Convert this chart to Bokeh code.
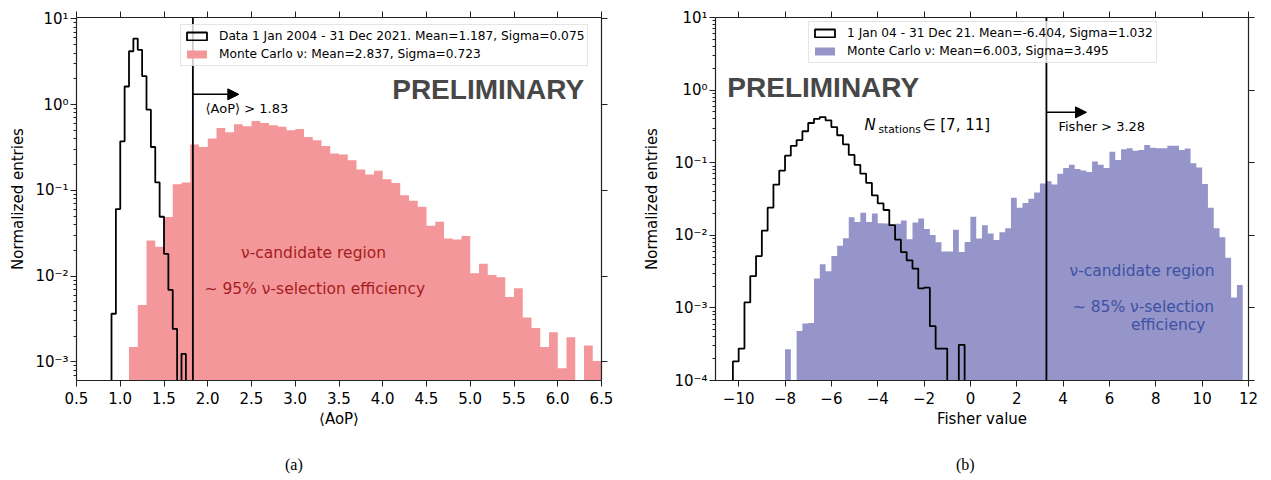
import numpy as np
from bokeh.plotting import figure
from bokeh.layouts import row, column
from bokeh.models import (Range1d, LinearAxis, LogAxis, FixedTicker, CustomJSTickFormatter,
                          Legend, LegendItem, Span, Arrow, NormalHead, Label, Div)
from bokeh.embed import file_html
from bokeh.resources import INLINE

# ---------------- panel (a): <AoP> ----------------
aop_data_start = 0.80
aop_data_width = 0.05
aop_data = [0, 0, 0.00364, 0.0606, 0.374, 1.63, 4.2, 5.9, 4.36, 2.15,
            0.875, 0.321, 0.124, 0.0493, 0.0182, 0.0069, 0.00242, 0, 0.00124, 0]
aop_mc_start = 1.10
aop_mc_width = 0.10
aop_mc = [0.00149, 0.0046, 0.026, 0.022, 0.049, 0.118, 0.124, 0.343, 0.321, 0.402,
          0.535, 0.476, 0.590, 0.56, 0.645, 0.611, 0.574, 0.554, 0.503, 0.521,
          0.42, 0.385, 0.33, 0.27, 0.262, 0.225, 0.175, 0.153, 0.169, 0.135,
          0.122, 0.088, 0.0757, 0.0645, 0.0388, 0.0431, 0.0274, 0.0267, 0.0294, 0.0108,
          0.0139, 0.0103, 0.0097, 0.0057, 0.0072, 0.0033, 0.00248, 0.00149, 0.00221, 0.00084,
          0.00193, 0, 0.00155, 0.00102]
aop_cut = 1.83
aop_xticks = [0.5, 1.0, 1.5, 2.0, 2.5, 3.0, 3.5, 4.0, 4.5, 5.0, 5.5, 6.0, 6.5]
aop_yticks = [1e-3, 1e-2, 1e-1, 1e0, 1e1]
aop_legend = ["Data 1 Jan 2004 - 31 Dec 2021. Mean=1.187, Sigma=0.075",
              "Monte Carlo \u03bd: Mean=2.837, Sigma=0.723"]

# ---------------- panel (b): Fisher ----------------
fis_data_start = -10.25
fis_data_width = 0.25
fis_data = [1.83e-4, 2.75e-4, 1.19e-3, 2.74e-3, 5.18e-3, 0.0116, 0.024, 0.0499, 0.078, 0.125,
            0.171, 0.205, 0.271, 0.352, 0.402, 0.425, 0.383, 0.31, 0.239, 0.179,
            0.128, 0.0936, 0.0705, 0.0526, 0.0354, 0.0276, 0.0223, 0.0138, 0.0087, 0.00587,
            0.00452, 0.00348, 0.00186, 0.0019, 5.6e-4, 2.75e-4, 2.75e-4, 0, 0, 3.1e-4, 0]
fis_mc_start = -8.0
fis_mc_width = 0.25
fis_mc = [2.7e-4, 0, 4.8e-4, 6.1e-4, 6.2e-4, 2.55e-3, 4.0e-3, 3.2e-3, 5.2e-3, 7.2e-3,
          9.1e-3, 0.0177, 0.0153, 0.0204, 0.0153, 0.0199, 0.0147, 0.0145, 0.0135, 0.0144,
          0.0160, 8.8e-3, 0.0150, 0.0170, 0.0122, 0.0101, 8.0e-3, 6.0e-3, 6.0e-3, 0.0119,
          5.9e-3, 8.1e-3, 0.018, 9.0e-3, 0.0138, 0.0106, 8.6e-3, 0.011, 0.0125, 0.0329,
          0.024, 0.0278, 0.0318, 0.039, 0.0515, 0.0554, 0.0499, 0.0705, 0.0842, 0.0935,
          0.0816, 0.0782, 0.0743, 0.104, 0.0935, 0.0842, 0.142, 0.109, 0.153, 0.158,
          0.146, 0.15, 0.175, 0.161, 0.158, 0.158, 0.171, 0.171, 0.15, 0.157,
          0.098, 0.086, 0.051, 0.024, 0.0125, 0.0094, 0.0049, 0.00139, 0.00207]
fis_cut = 3.28
fis_xticks = [-10, -8, -6, -4, -2, 0, 2, 4, 6, 8, 10, 12]
fis_yticks = [1e-4, 1e-3, 1e-2, 1e-1, 1e0, 1e1]
fis_legend = ["1 Jan 04 - 31 Dec 21. Mean=-6.404, Sigma=1.032",
              "Monte Carlo \u03bd: Mean=6.003, Sigma=3.495"]

FLOOR = 1e-8
FONT = "DejaVu Sans"
AXC = "#222222"


def step_outline(start, width, vals):
    n = len(vals)
    edges = start + width * np.arange(n + 1)
    xs, ys = [edges[0]], [FLOOR]
    for i, v in enumerate(vals):
        vv = v if v > 0 else FLOOR
        xs += [edges[i], edges[i + 1]]
        ys += [vv, vv]
    xs.append(edges[-1])
    ys.append(FLOOR)
    return xs, ys


SUP_JS = """
const e = Math.round(Math.log10(tick));
const sup = {'-':'\u207b','0':'\u2070','1':'\u00b9','2':'\u00b2','3':'\u00b3','4':'\u2074',
             '5':'\u2075','6':'\u2076','7':'\u2077','8':'\u2078','9':'\u2079'};
return '10' + String(e).split('').map(c => sup[c]).join('');
"""
EMPTY_JS = "return '';"


def minor_log(decades):
    out = []
    lo = int(round(np.log10(decades[0]))) - 1
    hi = int(round(np.log10(decades[-1])))
    for e in range(lo, hi + 1):
        for m in range(2, 10):
            out.append(m * 10.0 ** e)
    return out


def style_axis(ax, show_labels=True):
    ax.axis_line_color = AXC
    ax.axis_line_width = 1.2
    ax.major_tick_line_color = AXC
    ax.major_tick_line_width = 1.0
    ax.minor_tick_line_color = AXC
    ax.major_tick_in = 0
    ax.major_tick_out = 6
    ax.minor_tick_in = 0
    ax.minor_tick_out = 3
    ax.major_label_text_font = FONT
    ax.major_label_text_font_size = "15px"
    ax.major_label_text_color = "black"
    ax.major_label_standoff = 2
    ax.axis_label_text_font = FONT
    ax.axis_label_text_font_size = "15px"
    ax.axis_label_text_font_style = "normal"
    ax.axis_label_text_color = "black"
    if not show_labels:
        ax.major_label_text_font_size = "0px"
        ax.major_label_standoff = 0


def make_panel(width, height, xr, yr, borders, xticks, yticks, xfmt, xlabel, ylab_standoff):
    p = figure(width=width, height=height, x_range=Range1d(*xr), y_range=Range1d(*yr),
               y_axis_type="log", output_backend="svg", toolbar_location=None)
    p.min_border_left, p.min_border_right, p.min_border_top, p.min_border_bottom = borders
    p.outline_line_color = None
    p.xgrid.grid_line_color = None
    p.ygrid.grid_line_color = None
    p.background_fill_color = "white"
    p.border_fill_color = "white"
    yt = FixedTicker(ticks=yticks, minor_ticks=minor_log(yticks))
    xt = FixedTicker(ticks=xticks, minor_ticks=[])
    xa = p.xaxis[0]
    xa.ticker = xt
    xa.formatter = CustomJSTickFormatter(code=xfmt)
    xa.axis_label = xlabel
    style_axis(xa)
    xa.major_label_standoff = 5
    xa.axis_label_standoff = 3
    ya = p.yaxis[0]
    ya.ticker = yt
    ya.formatter = CustomJSTickFormatter(code=SUP_JS)
    ya.axis_label = "Normalized entries"
    style_axis(ya)
    ya.axis_label_standoff = ylab_standoff
    top = LinearAxis(ticker=FixedTicker(ticks=xticks, minor_ticks=[]),
                     formatter=CustomJSTickFormatter(code=EMPTY_JS))
    style_axis(top, False)
    p.add_layout(top, "above")
    right = LogAxis(ticker=FixedTicker(ticks=yticks, minor_ticks=[]),
                    formatter=CustomJSTickFormatter(code=EMPTY_JS))
    style_axis(right, False)
    p.add_layout(right, "right")
    return p


def add_legend(p, items, loc, text_size):
    leg = Legend(items=items, location=loc, margin=0, padding=3, spacing=2,
                 glyph_width=25, glyph_height=10, label_height=16, label_standoff=10,
                 label_text_font=FONT, label_text_font_size=text_size, label_text_color="black",
                 border_line_color="#cccccc", border_line_width=1,
                 background_fill_color="white", background_fill_alpha=0.8)
    p.add_layout(leg, "center")


def add_text(p, x, y, text, size, color="black", align="left",
             font=FONT, style="normal"):
    p.add_layout(Label(x=x, y=y, text=text, text_font=font,
                       text_font_size=size, text_color=color, text_align=align,
                       text_baseline="middle", text_font_style=style))


def caption(text, width, pad_left):
    html = ('<div style="padding-left:%dpx;padding-top:16px;font-family:\'Liberation Serif\';'
            'font-size:16px;line-height:18px;color:black;white-space:nowrap">%s</div>'
            % (pad_left, text))
    return Div(text=html, width=width, height=40, margin=0)


# ================= panel (a) =================
RED = "#f4979a"
RED_TXT = "#a51d20"
X_FMT_A = "return tick.toFixed(1);"
p1 = make_panel(640, 440, (0.5, 6.5), (6.06e-4, 10.4), (76, 39, 17, 59),
                aop_xticks, aop_yticks, X_FMT_A, "\u27e8AoP\u27e9", 5)
mx, my = step_outline(aop_mc_start, aop_mc_width, aop_mc)
r_mc1 = p1.patch(mx, my, fill_color=RED, line_color=None)
dx, dy = step_outline(aop_data_start, aop_data_width, aop_data)
r_d1 = p1.patch(dx, dy, fill_color=None, line_color="black", line_width=1.8)
add_legend(p1, [LegendItem(label=aop_legend[0], renderers=[r_d1]),
                LegendItem(label=aop_legend[1], renderers=[r_mc1])], (104, 314), "12.2px")
p1.add_layout(Span(location=aop_cut, dimension="height", line_color="black", line_width=1.8))
p1.add_layout(Arrow(end=NormalHead(size=11, fill_color="black", line_color="black"),
                    x_start=aop_cut, y_start=1.32, x_end=2.355, y_end=1.32,
                    line_color="black", line_width=1.5))
add_text(p1, 1.974, 0.913, "\u27e8AoP\u27e9 > 1.83", "13px")
add_text(p1, 4.108, 1.506, "PRELIMINARY", "28px", color="#474747",
         font="Liberation Sans", style="bold")
add_text(p1, 3.209, 0.0185, "\u03bd-candidate region", "15.5px", color=RED_TXT, align="center")
add_text(p1, 3.224, 7.06e-3, "\u223c 95% \u03bd-selection efficiency", "15.5px",
         color=RED_TXT, align="center")

# ================= panel (b) =================
BLUE = "#9595c9"
BLUE_TXT = "#3f51a5"
X_FMT_B = "return (tick < 0 ? '\u2212' : '') + Math.abs(tick).toFixed(0);"
p2 = make_panel(631, 440, (-11, 12), (1e-4, 10), (73, 23, 13, 60),
                fis_xticks, fis_yticks, X_FMT_B, "Fisher value", 10)
mx2, my2 = step_outline(fis_mc_start, fis_mc_width, fis_mc)
r_mc2 = p2.patch(mx2, my2, fill_color=BLUE, line_color=None)
dx2, dy2 = step_outline(fis_data_start, fis_data_width, fis_data)
r_d2 = p2.patch(dx2, dy2, fill_color=None, line_color="black", line_width=1.8)
add_legend(p2, [LegendItem(label=fis_legend[0], renderers=[r_d2]),
                LegendItem(label=fis_legend[1], renderers=[r_mc2])], (93, 317), "12.2px")
p2.add_layout(Span(location=fis_cut, dimension="height", line_color="black", line_width=1.8))
p2.add_layout(Arrow(end=NormalHead(size=11, fill_color="black", line_color="black"),
                    x_start=fis_cut, y_start=0.494, x_end=5.01, y_end=0.494,
                    line_color="black", line_width=1.5))
add_text(p2, 3.80, 0.319, "Fisher > 3.28", "13px")
add_text(p2, -10.49, 1.10, "PRELIMINARY", "28px", color="#474747",
         font="Liberation Sans", style="bold")
add_text(p2, -4.566, 0.326, "N", "15px", style="italic")
add_text(p2, -3.964, 0.287, "stations", "10.7px")
add_text(p2, -2.072, 0.326, "\u2208 [7, 11]", "15px")
add_text(p2, 7.407, 3.22e-3, "\u03bd-candidate region", "15.5px", color=BLUE_TXT, align="center")
add_text(p2, 7.463, 1.019e-3, "\u223c 85% \u03bd-selection", "15.5px", color=BLUE_TXT, align="center")
add_text(p2, 8.538, 5.74e-4, "efficiency", "15.5px", color=BLUE_TXT, align="center")

cap_a = caption("(a)", 640, 285)
cap_b = caption("(b)", 631, 316)

page = column(row(p1, p2, spacing=0), row(cap_a, cap_b, spacing=0), spacing=0)
open("out.html", "w").write(file_html(page, INLINE))
